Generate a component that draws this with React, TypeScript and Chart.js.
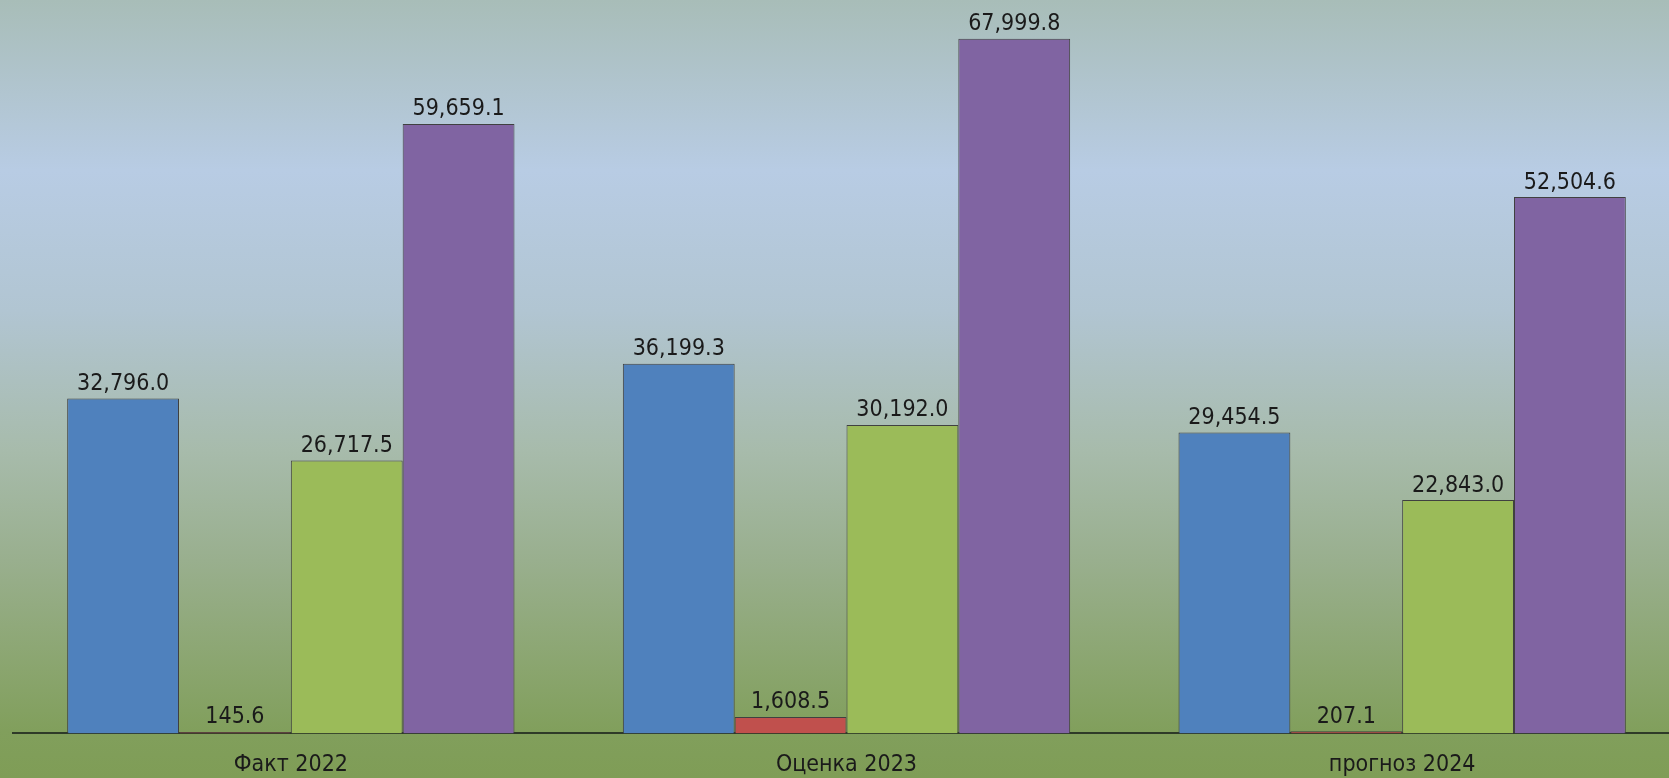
import React, { useEffect, useRef } from "react";
import { Chart, registerables } from "chart.js";

Chart.register(...registerables);

const categories = ["Факт 2022", "Оценка 2023", "прогноз 2024"];
const seriesBlue = [32796.0, 36199.3, 29454.5];
const seriesRed = [145.6, 1608.5, 207.1];
const seriesGreen = [26717.5, 30192.0, 22843.0];
const seriesPurple = [59659.1, 67999.8, 52504.6];
const seriesNames = ["Ряд 1", "Ряд 2", "Ряд 3", "Ряд 4"];

const FONT = "'DejaVu Sans Condensed', 'DejaVu Sans', sans-serif";

const fmt = (v: number) =>
  v.toLocaleString("en-US", { minimumFractionDigits: 1, maximumFractionDigits: 1 });

const labelPlugin = {
  id: "barValueLabels",
  afterDatasetsDraw(chart: any) {
    const ctx = chart.ctx;
    ctx.save();
    ctx.font = `23px ${FONT}`;
    ctx.fillStyle = "#1a1a1a";
    ctx.textAlign = "center";
    ctx.textBaseline = "bottom";
    chart.data.datasets.forEach((ds: any, i: number) => {
      const meta = chart.getDatasetMeta(i);
      meta.data.forEach((bar: any, j: number) => {
        ctx.fillText(fmt(ds.data[j]), bar.x, bar.y - 3);
      });
    });
    ctx.restore();
  },
};

export default function App() {
  const ref = useRef<HTMLCanvasElement>(null);
  useEffect(() => {
    if (!ref.current) return;
    const mk = (label: string, data: number[], color: string) => ({
      label,
      data,
      backgroundColor: color,
      borderColor: "#404040",
      borderWidth: 1,
      borderSkipped: "bottom" as const,
      categoryPercentage: 0.805,
      barPercentage: 1.0,
    });
    const chart = new Chart(ref.current, {
      type: "bar",
      data: {
        labels: categories,
        datasets: [
          mk(seriesNames[0], seriesBlue, "#4f81bd"),
          mk(seriesNames[1], seriesRed, "#c0504d"),
          mk(seriesNames[2], seriesGreen, "#9bbb59"),
          mk(seriesNames[3], seriesPurple, "#8064a2"),
        ],
      },
      options: {
        animation: false,
        responsive: false,
        maintainAspectRatio: false,
        layout: { padding: { left: 13, right: 10, top: 0, bottom: 0 } },
        plugins: { legend: { display: false }, tooltip: { enabled: false } },
        scales: {
          x: {
            grid: { display: false, drawTicks: false, tickLength: 0 },
            border: { display: true, color: "#2e3a28", width: 2 },
            ticks: {
              color: "#1a1a1a",
              font: { family: FONT, size: 23 },
              padding: 18,
            },
          },
          y: {
            display: false,
            min: 0,
            max: 71800,
          },
        },
      },
      plugins: [labelPlugin],
    });
    return () => chart.destroy();
  }, []);
  return (
    <div
      style={{
        position: "fixed",
        left: 0,
        top: 0,
        width: 1669,
        height: 778,
        overflow: "hidden",
        background:
          "linear-gradient(to bottom, #a8bdb8 0%, #b1c5d0 12%, #b8cce4 22%, #b1c5d2 40%, #a7bbab 58%, #99af8e 72%, #8aa56e 86%, #819f5c 94%, #7f9d56 100%)",
      }}
    >
      <canvas ref={ref} width={1690} height={797} style={{ display: "block" }} />
    </div>
  );
}
